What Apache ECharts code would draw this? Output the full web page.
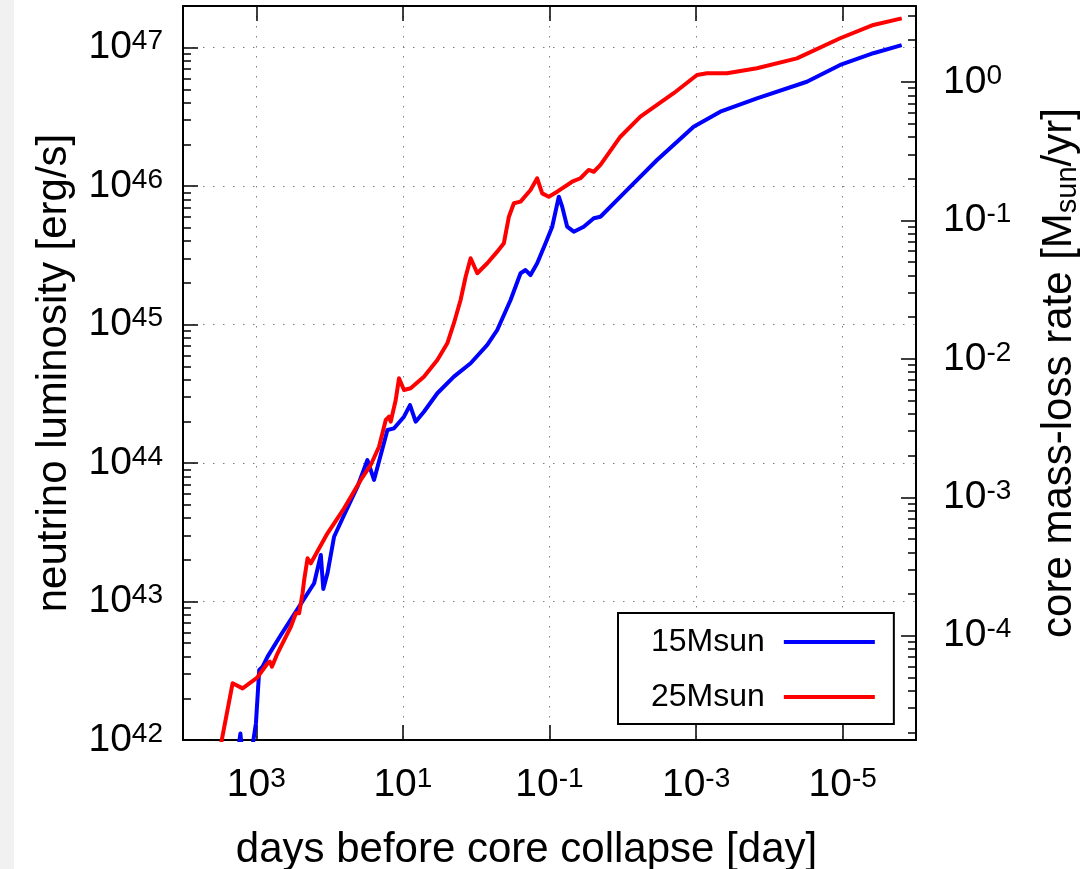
<!DOCTYPE html>
<html><head><meta charset="utf-8">
<script src="https://cdn.jsdelivr.net/npm/echarts@6/dist/echarts.min.js"></script>
<style>html,body{margin:0;padding:0;background:#fff}#c{width:1084px;height:869px}</style>
</head><body><div id="c"></div>
<script>
const FONT = '"Liberation Sans", Arial, sans-serif';

// Values, as base-10 exponents (days before collapse, erg/s)
const seriesNames = ['15Msun', '25Msun'];
const logDays15 = [3.251, 3.217, 3.183, 3.101, 3.005, 2.960, 2.914, 2.846, 2.665, 2.416, 2.211, 2.120, 2.086, 2.029, 1.939, 1.802, 1.620, 1.484, 1.394, 1.211, 1.121, 0.985, 0.903, 0.826, 0.713, 0.530, 0.304, 0.076, -0.151, -0.287, -0.469, -0.605, -0.673, -0.741, -0.832, -0.946, -1.037, -1.127, -1.173, -1.241, -1.331, -1.467, -1.604, -1.695, -2.012, -2.467, -2.966, -3.330, -3.830, -4.511, -4.965, -5.418, -5.805];
const logLum15 = [41.913, 42.047, 41.856, 41.783, 42.121, 42.506, 42.529, 42.602, 42.758, 42.963, 43.132, 43.336, 43.091, 43.204, 43.468, 43.625, 43.829, 44.022, 43.878, 44.239, 44.251, 44.335, 44.419, 44.299, 44.371, 44.504, 44.624, 44.721, 44.853, 44.961, 45.178, 45.371, 45.394, 45.358, 45.443, 45.587, 45.707, 45.924, 45.852, 45.707, 45.671, 45.707, 45.768, 45.779, 45.948, 46.189, 46.429, 46.538, 46.634, 46.754, 46.875, 46.960, 47.019];
const logDays25 = [3.523, 3.323, 3.187, 2.992, 2.846, 2.815, 2.787, 2.710, 2.529, 2.460, 2.416, 2.369, 2.347, 2.301, 2.256, 2.029, 1.802, 1.575, 1.439, 1.326, 1.257, 1.234, 1.189, 1.166, 1.098, 1.053, 0.985, 0.894, 0.713, 0.530, 0.394, 0.304, 0.213, 0.144, 0.076, -0.015, -0.151, -0.287, -0.377, -0.446, -0.514, -0.605, -0.741, -0.832, -0.900, -0.990, -1.105, -1.309, -1.422, -1.535, -1.604, -1.695, -1.967, -2.240, -2.694, -3.012, -3.149, -3.421, -3.830, -4.375, -4.965, -5.418, -5.805];
const logLum25 = [41.856, 42.410, 42.373, 42.448, 42.554, 42.566, 42.529, 42.626, 42.818, 42.915, 42.915, 43.060, 43.156, 43.312, 43.276, 43.493, 43.673, 43.878, 43.986, 44.118, 44.263, 44.311, 44.335, 44.299, 44.456, 44.612, 44.528, 44.540, 44.624, 44.744, 44.865, 45.010, 45.178, 45.346, 45.479, 45.371, 45.443, 45.527, 45.587, 45.779, 45.876, 45.888, 45.972, 46.057, 45.948, 45.924, 45.960, 46.032, 46.057, 46.117, 46.104, 46.153, 46.357, 46.502, 46.671, 46.803, 46.815, 46.815, 46.851, 46.923, 47.068, 47.164, 47.212];

// Tick labels (exponents)
const xTickExps = [3, 1, -1, -3, -5];
const leftTickExps = [42, 43, 44, 45, 46, 47];
const rightTickExps = [-4, -3, -2, -1, 0];

// Axis ranges
const dayMin = 1e-6, dayMax = 1e4;
const lumMin = 1e42, lumMax = 2e47;
// erg/s -> Msun/yr  (L / c^2)
const toRate = 3.156e7 / (8.988e20 * 1.989e33);

const pow10 = e => Math.pow(10, e);
const pairs = (xs, ys) => xs.map((x, i) => [pow10(x), pow10(ys[i])]);
function minorVals(lo, hi) {
  const out = [];
  for (let n = lo; n <= hi; n++) for (let k = 2; k <= 9; k++) out.push(k * pow10(n));
  return out;
}
const expFmt = v => '{b|10}{s|' + Math.round(Math.log10(v)) + '}';
const richTick = {
  b: { fontSize: 39, fontFamily: FONT, color: '#000', lineHeight: 40 },
  s: { fontSize: 28, fontFamily: FONT, color: '#000', lineHeight: 22, verticalAlign: 'top' }
};
const axisLine = { show: true, lineStyle: { color: '#000', width: 2 } };
const grid = { color: '#808080', width: 1, type: [1.5, 8.5] };

const chart = echarts.init(document.getElementById('c'), null, { renderer: 'canvas' });
chart.setOption({
  backgroundColor: '#fff',
  animation: false,
  graphic: [{ type: 'rect', left: 0, top: 0, shape: { width: 14, height: 869 }, style: { fill: '#f1f1f1' }, z: -10 }],
  grid: { left: 183, right: 168, top: 6, bottom: 129, containLabel: false, outerBoundsMode: 'none' },
  legend: {
    data: seriesNames, orient: 'vertical', left: 618, top: 613, align: 'right',
    icon: 'rect', itemWidth: 91, itemHeight: 4, itemGap: 19,
    padding: [11, 19, 9, 33], borderColor: '#000', borderWidth: 2, backgroundColor: '#fff',
    selectedMode: false,
    textStyle: { fontSize: 32, fontFamily: FONT, color: '#000', lineHeight: 36, padding: [0, 14, 0, 0] }
  },
  xAxis: [
    {
      type: 'log', logBase: 10, inverse: true, min: dayMin, max: dayMax, position: 'bottom',
      name: 'days before core collapse [day]', nameLocation: 'middle', nameGap: 89,
      nameTextStyle: { fontSize: 42, fontFamily: FONT, color: '#000', lineHeight: 42, padding: [0, 46, 0, 0] },
      axisLine: axisLine,
      axisTick: { show: true, inside: true, length: 15, customValues: xTickExps.map(pow10), lineStyle: { color: '#000', width: 1.5 } },
      axisLabel: { show: true, margin: 25, customValues: xTickExps.map(pow10), formatter: expFmt, rich: richTick },
      splitLine: { show: true, lineStyle: grid }, minorTick: { show: false }
    },
    {
      type: 'log', logBase: 10, inverse: true, min: dayMin, max: dayMax, position: 'top',
      axisLine: axisLine,
      axisTick: { show: true, inside: true, length: 15, customValues: xTickExps.map(pow10), lineStyle: { color: '#000', width: 1.5 } },
      axisLabel: { show: false }, splitLine: { show: false }
    }
  ],
  yAxis: [
    {
      type: 'log', logBase: 10, min: lumMin, max: lumMax, position: 'left',
      name: 'neutrino luminosity [erg/s]', nameLocation: 'middle', nameGap: 87, nameRotate: 90,
      nameTextStyle: { fontSize: 42, fontFamily: FONT, color: '#000', lineHeight: 46 },
      axisLine: axisLine,
      axisTick: { show: true, inside: true, length: 15, customValues: leftTickExps.map(pow10), lineStyle: { color: '#000', width: 1.5 } },
      axisLabel: { show: true, margin: 20, customValues: leftTickExps.map(pow10), formatter: expFmt, rich: richTick },
      splitLine: { show: true, lineStyle: grid }
    },
    {
      type: 'log', logBase: 10, min: lumMin, max: lumMax, position: 'left',
      axisLine: { show: false },
      axisTick: { show: true, inside: true, length: 8, customValues: minorVals(42, 46), lineStyle: { color: '#000', width: 1.5 } },
      axisLabel: { show: false }, splitLine: { show: false }
    },
    {
      type: 'log', logBase: 10, min: lumMin * toRate, max: lumMax * toRate, position: 'right',
      name: '{a|core mass-loss rate [M}{sub|sun}{a|/yr]}', nameLocation: 'middle', nameGap: 120, nameRotate: 90,
      nameTextStyle: { rich: {
        a: { fontSize: 42, fontFamily: FONT, color: '#000', lineHeight: 46 },
        sub: { fontSize: 29, fontFamily: FONT, color: '#000', lineHeight: 30, verticalAlign: 'bottom' }
      } },
      axisLine: axisLine,
      axisTick: { show: true, inside: true, length: 15, customValues: rightTickExps.map(pow10), lineStyle: { color: '#000', width: 1.5 } },
      axisLabel: { show: true, margin: 27, customValues: rightTickExps.map(pow10), formatter: expFmt, rich: richTick },
      splitLine: { show: false }
    },
    {
      type: 'log', logBase: 10, min: lumMin * toRate, max: lumMax * toRate, position: 'right',
      axisLine: { show: false },
      axisTick: { show: true, inside: true, length: 8, customValues: minorVals(-5, 0), lineStyle: { color: '#000', width: 1.5 } },
      axisLabel: { show: false }, splitLine: { show: false }
    }
  ],
  series: [
    {
      name: seriesNames[0], type: 'line', xAxisIndex: 0, yAxisIndex: 0,
      data: pairs(logDays15, logLum15), showSymbol: false, symbol: 'none', clip: true,
      lineStyle: { color: '#0000ff', width: 4, join: 'round' }, itemStyle: { color: '#0000ff' }, z: 3
    },
    {
      name: seriesNames[1], type: 'line', xAxisIndex: 0, yAxisIndex: 0,
      data: pairs(logDays25, logLum25), showSymbol: false, symbol: 'none', clip: true,
      lineStyle: { color: '#ff0000', width: 4, join: 'round' }, itemStyle: { color: '#ff0000' }, z: 3
    }
  ]
});
</script>
</body></html>
